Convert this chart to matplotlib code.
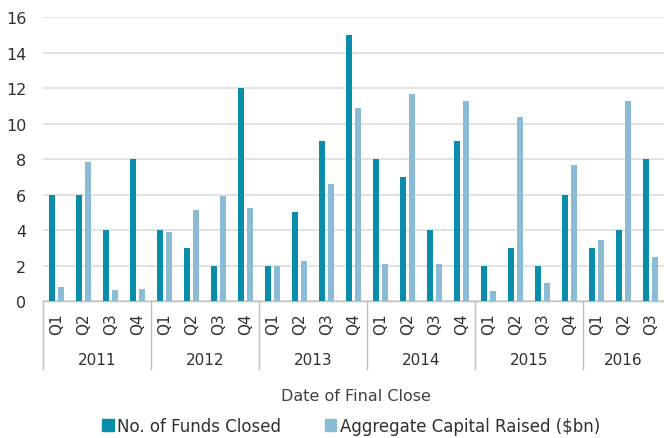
import numpy as np
import matplotlib.pyplot as plt
from matplotlib.patches import Patch

years = ['2011', '2012', '2013', '2014', '2015', '2016']
quarters_per_year = [4, 4, 4, 4, 4, 3]
quarters = ['Q1', 'Q2', 'Q3', 'Q4'] * 5 + ['Q1', 'Q2', 'Q3']

# No. of Funds Closed
funds = [6, 6, 4, 8,
         4, 3, 2, 12,
         2, 5, 9, 15,
         8, 7, 4, 9,
         2, 3, 2, 6,
         3, 4, 8]
# Aggregate Capital Raised ($bn)
capital = [0.8, 7.85, 0.6, 0.7,
           3.9, 5.15, 5.9, 5.25,
           2.0, 2.25, 6.6, 10.9,
           2.1, 11.7, 2.1, 11.3,
           0.55, 10.4, 1.0, 7.65,
           3.45, 11.3, 2.5]

dark = '#0A8CAB'
light = '#8BBCD5'
txt = '#303030'

plt.rcParams['font.family'] = ['DejaVu Sans']

fig = plt.figure(figsize=(6.64, 4.39), dpi=100)
ax = fig.add_axes([43 / 664, 1 - 302 / 439, 1 - 43 / 664, (302 - 18.3) / 439])

x = np.arange(len(funds))
w = 0.22
ax.bar(x - 0.15, funds, width=w, color=dark, zorder=3)
ax.bar(x + 0.15, capital, width=w, color=light, zorder=3)

ax.set_xlim(-0.5, len(funds) - 0.5)
ax.set_ylim(0, 16)
ax.set_yticks(range(0, 17, 2))
ax.yaxis.grid(True, color='#E3E3E3', linewidth=1.4, zorder=0)
for s in ['top', 'right', 'left']:
    ax.spines[s].set_visible(False)
ax.spines['bottom'].set_color('#BFBFBF')
ax.spines['bottom'].set_linewidth(1.0)

ax.set_xticks(x)
ax.set_xticklabels(quarters, rotation=90, fontsize=11, color=txt)
ax.tick_params(axis='x', length=0, pad=8)
ax.tick_params(axis='y', length=0, pad=12, labelsize=11.5, labelcolor=txt)

# year group separators and labels
trans = ax.get_xaxis_transform()
start = 0
bounds = [-0.5]
for yr, n in zip(years, quarters_per_year):
    ax.text(start + (n - 1) / 2, -0.205, yr, transform=trans, ha='center',
            va='center', fontsize=11, color=txt)
    start += n
    bounds.append(start - 0.5)
for b in bounds[:-1]:
    ax.plot([b, b], [0, -0.24], transform=trans, color='#BFBFBF',
            linewidth=1.0, clip_on=False)

fig.text(356 / 664, 1 - 397 / 439, 'Date of Final Close', ha='center',
         va='center', fontsize=11.5, color='#404040')

handles = [Patch(color=dark), Patch(color=light)]
fig.legend(handles, ['No. of Funds Closed', 'Aggregate Capital Raised ($bn)'],
           loc='center', bbox_to_anchor=(351 / 664, 1 - 427 / 439),
           ncol=2, frameon=False, fontsize=12, handlelength=0.7,
           handleheight=0.7, handletextpad=0.2, columnspacing=2.6,
           labelcolor=txt)

fig.savefig('out.png', dpi=100)
